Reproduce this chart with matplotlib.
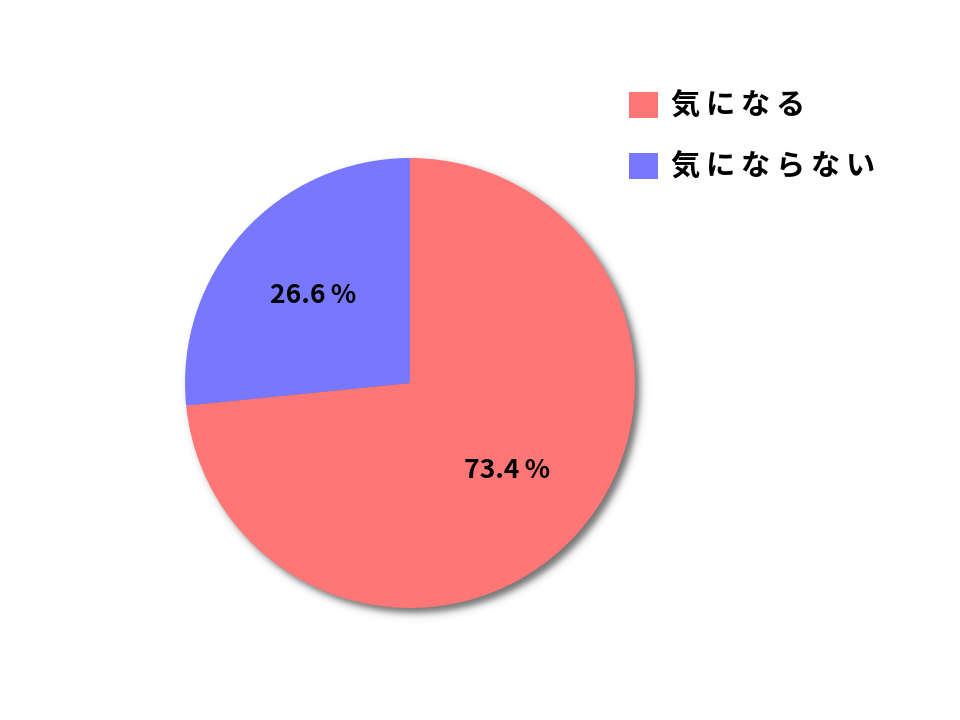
import numpy as np
import matplotlib.pyplot as plt
from matplotlib.patches import Patch

plt.rcParams['font.family'] = ['Noto Sans CJK JP', 'DejaVu Sans']

labels = ['気になる', '気にならない']
values = [73.4, 26.6]
colors = ['#FF7676', '#7878FF']

W, H = 960, 720
cx, cy, r = 410, H - 383, 225

fig = plt.figure(figsize=(9.6, 7.2), dpi=100)
ax = fig.add_axes([0, 0, 1, 1])
ax.set_xlim(0, W)
ax.set_ylim(0, H)
ax.set_aspect('equal')
ax.axis('off')

# soft drop shadow behind the pie
yy, xx = np.mgrid[0:H, 0:W] + 0.5
d = np.hypot(xx - (cx + 5), yy - (cy - 5)) - r
alpha = 0.55 / (1 + np.exp(d / 2.2))
shadow = np.zeros((H, W, 4))
shadow[..., 3] = alpha
ax.imshow(shadow, extent=(0, W, 0, H), origin='lower', zorder=0)

wedges, texts, autotexts = ax.pie(
    values, colors=colors, startangle=90, counterclock=False,
    center=(cx, cy), radius=r, autopct='%.1f\u2009%%', pctdistance=0.58,
    frame=True, textprops=dict(fontsize=19, fontweight='bold', color='black'))
for w in wedges:
    w.set_zorder(2)
for t in autotexts:
    t.set_zorder(3)
ax.set_xlim(0, W)
ax.set_ylim(0, H)
ax.axis('off')

# letter-spaced legend labels
spaced = ['\u2009'.join(s) for s in labels]
handles = [Patch(facecolor=c, edgecolor='none') for c in colors]
leg = ax.legend(handles, spaced, loc='upper left', bbox_to_anchor=(629 / W, 1 - 91 / H),
                frameon=False, fontsize=21, handlelength=1.0, handleheight=1.0,
                handletextpad=0.45, labelspacing=1.05, borderaxespad=0, borderpad=0)
for t in leg.get_texts():
    t.set_fontweight('bold')

plt.savefig('out.png', dpi=100)
